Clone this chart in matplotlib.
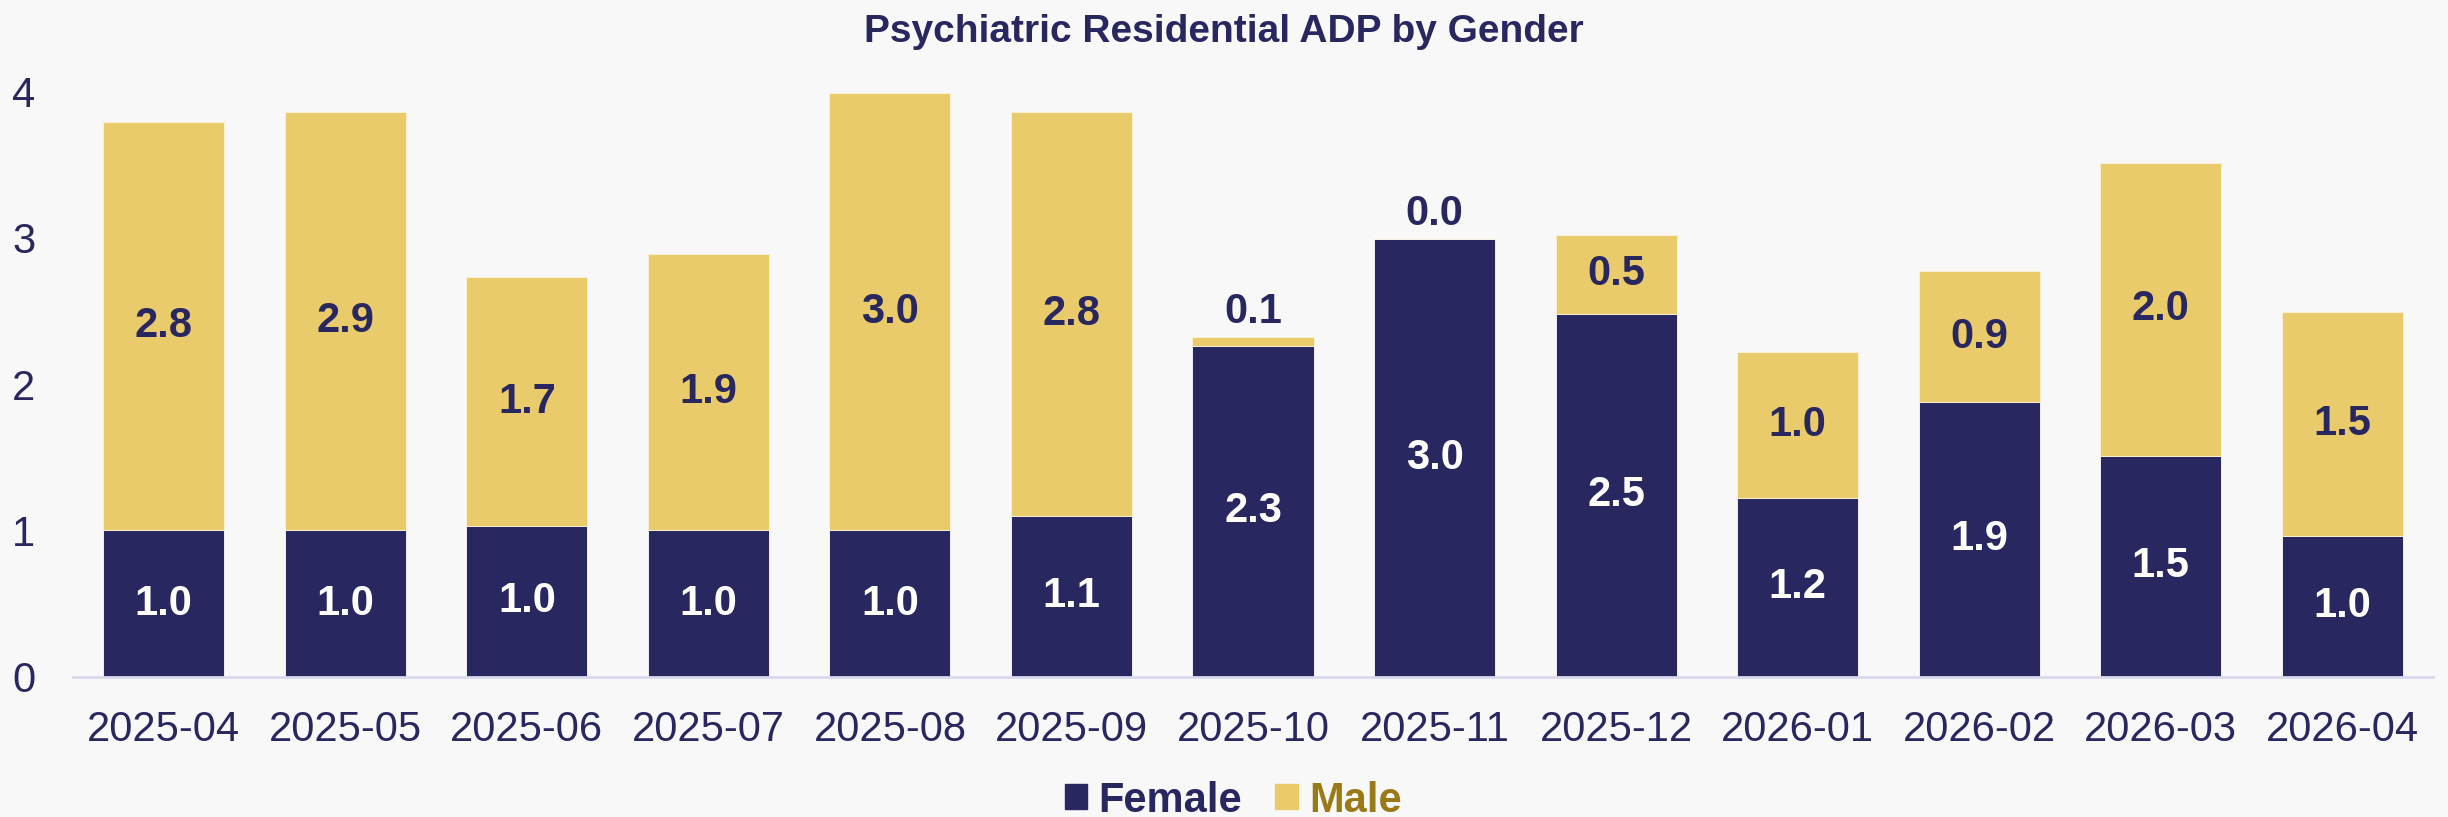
import matplotlib
matplotlib.use("Agg")
import matplotlib.pyplot as plt
import numpy as np
from matplotlib.patches import Patch

months = ["2025-04", "2025-05", "2025-06", "2025-07", "2025-08", "2025-09", "2025-10",
          "2025-11", "2025-12", "2026-01", "2026-02", "2026-03", "2026-04"]
female = [1.0, 1.0, 1.03, 1.0, 1.0, 1.1, 2.26, 2.99, 2.48, 1.22, 1.88, 1.51, 0.96]
male = [2.79, 2.86, 1.70, 1.89, 2.99, 2.76, 0.06, 0.0, 0.54, 1.0, 0.89, 2.0, 1.53]
yticks = [0, 1, 2, 3, 4]

NAVY = "#29275f"
GOLD = "#e9cb6b"
GOLD_TEXT = "#9a7a17"
BG = "#f8f8f8"
BASE = "#d9d8ee"

plt.rcParams['font.family'] = ['Liberation Sans', 'DejaVu Sans']

fig = plt.figure(figsize=(24.48, 8.17), dpi=100, facecolor=BG)
ax = fig.add_axes([0.0298, 0.1718, 0.9641, 0.7609])
ax.set_facecolor(BG)

x = np.arange(len(months))
w = 0.667
ax.bar(x, female, width=w, color=NAVY, edgecolor="#ffffff", linewidth=0.6, zorder=2)
ax.bar(x, male, width=w, bottom=female, color=GOLD, edgecolor="#fbf3d8", linewidth=0.6, zorder=2)

LBL = 30
for i in range(len(months)):
    f = female[i]
    m = male[i]
    ax.text(x[i], f / 2, f"{f:.1f}", ha="center", va="center", color="white",
            fontsize=LBL, fontweight="bold", zorder=3)
    if m < 0.3:
        ax.annotate(f"{m:.1f}", xy=(x[i], f + m), xytext=(0, 4), textcoords="offset points",
                    ha="center", va="bottom", color=NAVY, fontsize=LBL, fontweight="bold", zorder=3)
    else:
        ax.text(x[i], f + m / 2, f"{m:.1f}", ha="center", va="center", color=NAVY,
                fontsize=LBL, fontweight="bold", zorder=3)

ax.set_xlim(-0.5, len(months) - 0.5)
ax.set_ylim(0, 4.25)
ax.set_xticks(x)
ax.set_xticklabels(months)
ax.set_yticks(yticks)
ax.tick_params(axis="both", length=0, colors=NAVY, labelsize=30)
ax.tick_params(axis="x", pad=24)
ax.tick_params(axis="y", pad=27)
for s in ["top", "right", "left"]:
    ax.spines[s].set_visible(False)
ax.spines["bottom"].set_color(BASE)
ax.spines["bottom"].set_linewidth(2)

fig.text(0.5, 0.961, "Psychiatric Residential ADP by Gender", ha="center", va="center",
         color=NAVY, fontsize=28, fontweight="bold")

handles = [Patch(facecolor=NAVY, edgecolor=NAVY), Patch(facecolor=GOLD, edgecolor=GOLD)]
leg = fig.legend(handles, ["Female", "Male"], loc="center", bbox_to_anchor=(0.5037, 0.02),
                 ncol=2, frameon=False, handlelength=0.55, handleheight=0.55,
                 handletextpad=0.26, columnspacing=0.8,
                 prop={"size": 30, "weight": "bold"})
leg.get_texts()[0].set_color(NAVY)
leg.get_texts()[1].set_color(GOLD_TEXT)

fig.savefig("out.png", dpi=100, facecolor=BG)
